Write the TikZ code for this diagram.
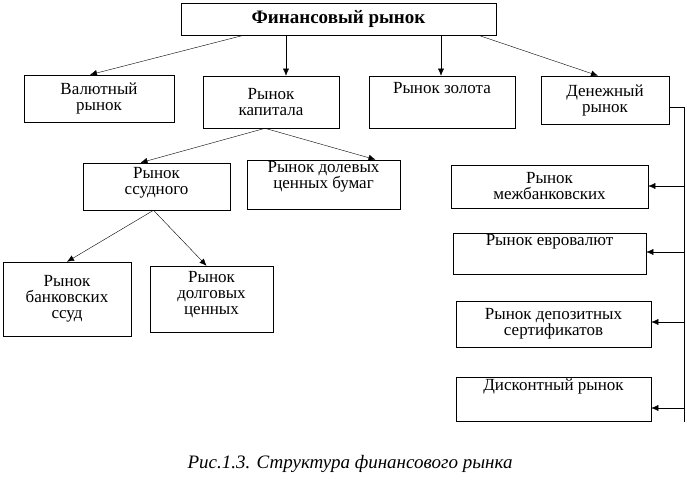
\documentclass[tikz,border=0pt]{standalone}
\usepackage{fontspec}
\setmainfont{Liberation Serif}
\usetikzlibrary{arrows.meta}
\tikzset{
  box/.style={draw, semithick, inner sep=1pt, align=center, font=\fontsize{17}{16}\selectfont},
  arr/.style={-{Latex[length=7pt,width=6pt]}, thin},
}
\begin{document}
\begin{tikzpicture}[x=1pt, y=-1pt]
  \useasboundingbox (0,0) rectangle (687,485);
  % top level
  \node [box, minimum width=315, minimum height=32, font=\fontsize{19}{19}\selectfont\bfseries] (fin) at (338.5,19) {Финансовый рынок};
  \node [box, minimum width=150, minimum height=47] (val) at (99,98.5) {Валютный\\рынок};
  \node [box, minimum width=136, minimum height=52] (kap) at (271,102) {Рынок\\капитала};
  \node [box, minimum width=146, minimum height=52] (zol) at (442,102) {Рынок золота\\[12pt]};
  \node [box, minimum width=128, minimum height=48] (den) at (605,100) {Денежный\\рынок};
  % capital market
  \node [box, minimum width=147, minimum height=47] (ssud) at (156.5,186.5) {Рынок\\ссудного\\[-4pt]};
  \node [box, minimum width=153, minimum height=49] (dol) at (323.5,184.5) {Рынок долевых\\ценных бумаг\\[4pt]};
  \node [box, minimum width=128, minimum height=74] (bank) at (67,299) {Рынок\\банковских\\ссуд};
  \node [box, minimum width=123, minimum height=66] (dolg) at (211.5,299) {Рынок\\долговых\\ценных\\[-3pt]};
  % money market
  \node [box, minimum width=197, minimum height=43] (mezh) at (549.5,186.5) {Рынок\\межбанковских};
  \node [box, minimum width=193, minimum height=39] (evro) at (549.5,253.5) {Рынок евровалют\\[12pt]};
  \node [box, minimum width=195, minimum height=46] (dep) at (553.5,324) {Рынок депозитных\\сертификатов};
  \node [box, minimum width=195, minimum height=41] (disk) at (553.5,399.5) {Дисконтный рынок\\[14pt]};

  \draw [arr] ([xshift=-95]fin.south) -- ([xshift=-9]val.north);
  \draw [arr] ([xshift=-52.5]fin.south) -- ([xshift=15]kap.north);
  \draw [arr] ([xshift=102.5]fin.south) -- ([xshift=-1]zol.north);
  \draw [arr] ([xshift=140]fin.south) -- ([xshift=-7]den.north);

  \draw [arr] ([xshift=-6]kap.south) -- ([xshift=-16]ssud.north);
  \draw [arr] ([xshift=-6]kap.south) -- ([xshift=52]dol.north);
  \draw [arr] ([xshift=-3]ssud.south) -- (bank.north);
  \draw [arr] ([xshift=-3]ssud.south) -- ([xshift=-5]dolg.north);

  \coordinate (bus) at ([xshift=15]den.east);
  \draw [thin] ([yshift=-7]den.east) -- ([yshift=-7]bus) -- (bus |- disk.south);
  \foreach \n/\y in {mezh/186, evro/252, dep/322, disk/408}
    \draw [arr] (bus |- 0,\y) -- (\n.east |- 0,\y);

  \node [font=\fontsize{19}{19}\selectfont\itshape] (cap) at (350,464) {Рис.1.3. Структура финансового рынка};
\end{tikzpicture}
\end{document}
